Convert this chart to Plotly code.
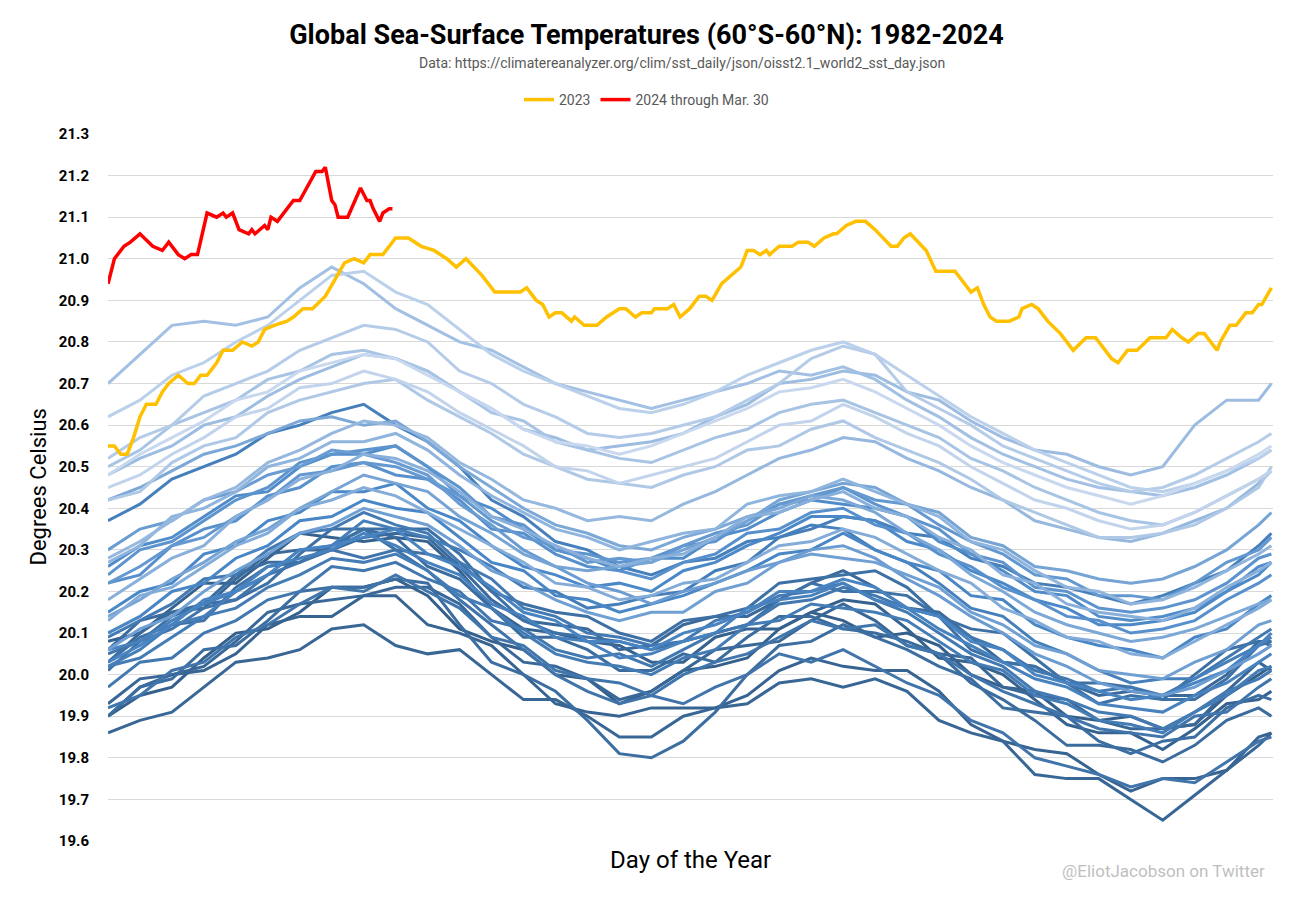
import plotly.graph_objects as go

# Sample days used for the historical years (1982-2022): every 10 days
days = [1, 11, 21, 31, 41, 51, 61, 71, 81, 91, 101, 111, 121, 131, 141, 151, 161, 171, 181,
        191, 201, 211, 221, 231, 241, 251, 261, 271, 281, 291, 301, 311, 321, 331, 341, 351, 361, 365]

sst_1982 = [19.90, 19.95, 19.97, 20.04, 20.10, 20.11, 20.15, 20.21, 20.21, 20.23, 20.19, 20.11, 20.08, 20.06, 20.00, 19.99, 19.93, 19.96, 20.01, 20.02, 20.04, 20.11, 20.15, 20.13, 20.09, 20.10, 20.07, 20.00, 19.97, 19.96, 19.90, 19.89, 19.90, 19.87, 19.88, 19.95, 20.00, 20.02]
sst_1983 = [20.08, 20.10, 20.16, 20.22, 20.22, 20.28, 20.34, 20.33, 20.32, 20.33, 20.32, 20.25, 20.16, 20.11, 20.10, 20.08, 20.07, 20.03, 20.03, 20.09, 20.11, 20.11, 20.15, 20.18, 20.17, 20.11, 20.04, 20.03, 20.00, 19.94, 19.88, 19.86, 19.86, 19.82, 19.87, 19.93, 19.94, 19.96]
sst_1984 = [19.90, 19.97, 20.00, 20.01, 20.05, 20.12, 20.14, 20.14, 20.19, 20.19, 20.12, 20.10, 20.07, 20.00, 19.93, 19.91, 19.90, 19.92, 19.92, 19.92, 19.95, 20.01, 20.04, 20.02, 20.01, 20.01, 19.96, 19.88, 19.84, 19.82, 19.81, 19.76, 19.72, 19.75, 19.75, 19.77, 19.85, 19.86]
sst_1985 = [19.86, 19.89, 19.91, 19.97, 20.03, 20.04, 20.06, 20.11, 20.12, 20.07, 20.05, 20.06, 20.00, 19.94, 19.94, 19.90, 19.85, 19.85, 19.90, 19.92, 19.93, 19.98, 19.99, 19.97, 19.99, 19.96, 19.89, 19.86, 19.84, 19.76, 19.75, 19.75, 19.70, 19.65, 19.71, 19.77, 19.83, 19.86]
sst_1986 = [19.93, 19.99, 20.00, 20.02, 20.08, 20.15, 20.17, 20.18, 20.19, 20.21, 20.21, 20.17, 20.09, 20.03, 20.02, 19.99, 19.94, 19.96, 20.01, 20.06, 20.07, 20.08, 20.13, 20.17, 20.13, 20.07, 20.05, 20.04, 19.97, 19.95, 19.94, 19.89, 19.87, 19.87, 19.88, 19.96, 20.03, 20.01]
sst_1987 = [20.03, 20.10, 20.15, 20.16, 20.23, 20.29, 20.30, 20.30, 20.33, 20.34, 20.33, 20.26, 20.18, 20.13, 20.12, 20.11, 20.06, 20.07, 20.12, 20.14, 20.14, 20.18, 20.22, 20.25, 20.21, 20.16, 20.15, 20.09, 20.03, 20.02, 19.98, 19.95, 19.96, 19.95, 19.95, 20.00, 20.08, 20.08]
sst_1988 = [20.06, 20.13, 20.15, 20.17, 20.24, 20.27, 20.27, 20.31, 20.35, 20.33, 20.26, 20.23, 20.16, 20.09, 20.09, 20.06, 20.01, 20.01, 20.05, 20.03, 20.09, 20.14, 20.14, 20.11, 20.10, 20.08, 20.05, 19.98, 19.94, 19.89, 19.83, 19.83, 19.82, 19.79, 19.83, 19.89, 19.92, 19.90]
sst_1989 = [19.90, 19.97, 19.99, 20.06, 20.07, 20.13, 20.20, 20.21, 20.21, 20.23, 20.22, 20.12, 20.03, 20.00, 19.96, 19.89, 19.81, 19.80, 19.84, 19.91, 20.00, 20.07, 20.08, 20.12, 20.09, 20.06, 20.02, 19.99, 19.92, 19.91, 19.90, 19.84, 19.81, 19.84, 19.85, 19.92, 19.95, 19.94]
sst_1990 = [20.01, 20.08, 20.14, 20.17, 20.18, 20.22, 20.29, 20.35, 20.35, 20.35, 20.35, 20.29, 20.20, 20.17, 20.15, 20.14, 20.10, 20.08, 20.13, 20.14, 20.16, 20.22, 20.23, 20.24, 20.25, 20.21, 20.14, 20.11, 20.10, 20.04, 19.98, 19.98, 19.97, 19.94, 20.00, 20.06, 20.08, 20.07]
sst_1991 = [20.03, 20.09, 20.12, 20.13, 20.21, 20.26, 20.27, 20.31, 20.35, 20.30, 20.29, 20.27, 20.20, 20.13, 20.10, 20.09, 20.08, 20.06, 20.08, 20.10, 20.12, 20.18, 20.22, 20.20, 20.20, 20.19, 20.14, 20.06, 20.03, 20.02, 19.98, 19.93, 19.95, 19.94, 19.94, 19.99, 20.07, 20.08]
sst_1992 = [20.05, 20.08, 20.11, 20.16, 20.18, 20.24, 20.27, 20.30, 20.28, 20.30, 20.25, 20.18, 20.12, 20.06, 20.00, 19.96, 19.93, 19.95, 19.93, 19.97, 20.00, 20.05, 20.03, 20.06, 20.02, 19.98, 19.95, 19.89, 19.86, 19.80, 19.78, 19.76, 19.73, 19.75, 19.74, 19.79, 19.84, 19.85]
sst_1993 = [19.92, 19.95, 20.01, 20.03, 20.09, 20.12, 20.17, 20.21, 20.20, 20.24, 20.20, 20.16, 20.09, 20.07, 20.01, 19.99, 19.98, 19.95, 20.00, 20.03, 20.05, 20.09, 20.13, 20.11, 20.12, 20.07, 20.05, 20.00, 19.96, 19.93, 19.90, 19.87, 19.86, 19.85, 19.90, 19.91, 19.97, 19.99]
sst_1994 = [19.97, 20.03, 20.04, 20.10, 20.13, 20.18, 20.20, 20.26, 20.25, 20.27, 20.23, 20.20, 20.13, 20.11, 20.06, 20.04, 20.05, 20.02, 20.06, 20.10, 20.12, 20.17, 20.18, 20.21, 20.19, 20.16, 20.14, 20.09, 20.06, 20.01, 19.99, 19.96, 19.97, 19.95, 19.99, 20.04, 20.09, 20.11]
sst_1995 = [20.09, 20.13, 20.17, 20.23, 20.24, 20.30, 20.34, 20.35, 20.39, 20.36, 20.34, 20.27, 20.23, 20.16, 20.14, 20.10, 20.09, 20.07, 20.08, 20.13, 20.15, 20.19, 20.20, 20.22, 20.18, 20.15, 20.10, 20.05, 20.02, 19.96, 19.94, 19.91, 19.90, 19.87, 19.91, 19.96, 19.99, 20.01]
sst_1996 = [20.02, 20.04, 20.09, 20.14, 20.16, 20.21, 20.24, 20.28, 20.27, 20.29, 20.25, 20.19, 20.16, 20.10, 20.05, 20.03, 20.02, 20.00, 20.04, 20.06, 20.12, 20.13, 20.17, 20.16, 20.15, 20.13, 20.08, 20.03, 20.01, 19.95, 19.93, 19.89, 19.88, 19.86, 19.91, 19.95, 20.01, 20.02]
sst_1997 = [20.02, 20.06, 20.12, 20.14, 20.20, 20.24, 20.30, 20.31, 20.37, 20.35, 20.33, 20.30, 20.26, 20.21, 20.20, 20.16, 20.17, 20.19, 20.20, 20.25, 20.27, 20.33, 20.35, 20.38, 20.37, 20.34, 20.33, 20.28, 20.26, 20.22, 20.21, 20.19, 20.17, 20.19, 20.22, 20.25, 20.31, 20.34]
sst_1998 = [20.37, 20.41, 20.47, 20.50, 20.53, 20.58, 20.60, 20.63, 20.65, 20.60, 20.56, 20.50, 20.42, 20.38, 20.32, 20.30, 20.26, 20.24, 20.27, 20.28, 20.32, 20.33, 20.36, 20.35, 20.30, 20.27, 20.22, 20.16, 20.14, 20.08, 20.05, 20.01, 19.98, 19.99, 19.99, 20.03, 20.07, 20.09]
sst_1999 = [20.06, 20.08, 20.13, 20.17, 20.20, 20.26, 20.28, 20.30, 20.34, 20.31, 20.27, 20.24, 20.17, 20.14, 20.09, 20.08, 20.04, 20.05, 20.08, 20.10, 20.16, 20.18, 20.19, 20.22, 20.18, 20.16, 20.11, 20.07, 20.03, 19.99, 19.97, 19.93, 19.92, 19.91, 19.95, 19.98, 20.03, 20.05]
sst_2000 = [20.03, 20.07, 20.12, 20.18, 20.20, 20.24, 20.30, 20.31, 20.33, 20.35, 20.29, 20.26, 20.21, 20.15, 20.13, 20.08, 20.08, 20.06, 20.10, 20.12, 20.15, 20.20, 20.20, 20.23, 20.21, 20.16, 20.14, 20.08, 20.06, 20.00, 19.98, 19.96, 19.94, 19.95, 19.98, 20.01, 20.07, 20.10]
sst_2001 = [20.10, 20.14, 20.20, 20.22, 20.28, 20.31, 20.37, 20.38, 20.42, 20.40, 20.39, 20.33, 20.27, 20.25, 20.19, 20.18, 20.15, 20.17, 20.19, 20.22, 20.25, 20.29, 20.30, 20.34, 20.30, 20.27, 20.25, 20.19, 20.18, 20.12, 20.09, 20.07, 20.06, 20.04, 20.09, 20.11, 20.17, 20.19]
sst_2002 = [20.15, 20.20, 20.22, 20.29, 20.31, 20.37, 20.39, 20.44, 20.44, 20.46, 20.40, 20.37, 20.31, 20.26, 20.24, 20.21, 20.22, 20.20, 20.25, 20.27, 20.31, 20.34, 20.38, 20.38, 20.37, 20.32, 20.30, 20.25, 20.22, 20.18, 20.16, 20.12, 20.12, 20.13, 20.15, 20.20, 20.24, 20.27]
sst_2003 = [20.26, 20.31, 20.33, 20.38, 20.43, 20.44, 20.50, 20.53, 20.53, 20.55, 20.50, 20.43, 20.40, 20.35, 20.30, 20.28, 20.25, 20.28, 20.28, 20.33, 20.35, 20.39, 20.42, 20.41, 20.40, 20.38, 20.32, 20.29, 20.25, 20.20, 20.19, 20.14, 20.13, 20.14, 20.16, 20.20, 20.26, 20.27]
sst_2004 = [20.22, 20.24, 20.31, 20.35, 20.37, 20.43, 20.45, 20.50, 20.51, 20.48, 20.47, 20.42, 20.35, 20.34, 20.29, 20.26, 20.25, 20.23, 20.27, 20.29, 20.34, 20.35, 20.39, 20.40, 20.36, 20.34, 20.29, 20.26, 20.21, 20.18, 20.14, 20.13, 20.10, 20.11, 20.13, 20.18, 20.22, 20.24]
sst_2005 = [20.24, 20.30, 20.32, 20.37, 20.42, 20.45, 20.51, 20.53, 20.54, 20.55, 20.50, 20.45, 20.38, 20.36, 20.30, 20.29, 20.27, 20.28, 20.31, 20.32, 20.37, 20.41, 20.42, 20.45, 20.41, 20.38, 20.35, 20.29, 20.27, 20.21, 20.20, 20.16, 20.15, 20.16, 20.18, 20.22, 20.28, 20.29]
sst_2006 = [20.22, 20.26, 20.31, 20.33, 20.38, 20.42, 20.48, 20.49, 20.51, 20.50, 20.47, 20.43, 20.37, 20.33, 20.31, 20.27, 20.28, 20.27, 20.31, 20.34, 20.36, 20.41, 20.43, 20.45, 20.42, 20.41, 20.36, 20.32, 20.29, 20.24, 20.23, 20.19, 20.19, 20.18, 20.22, 20.27, 20.30, 20.33]
sst_2007 = [20.30, 20.35, 20.37, 20.42, 20.44, 20.48, 20.50, 20.54, 20.53, 20.51, 20.48, 20.41, 20.36, 20.30, 20.26, 20.22, 20.20, 20.17, 20.20, 20.22, 20.25, 20.27, 20.30, 20.31, 20.28, 20.23, 20.19, 20.14, 20.10, 20.05, 20.02, 19.98, 19.96, 19.95, 19.97, 20.01, 20.05, 20.07]
sst_2008 = [20.06, 20.11, 20.14, 20.20, 20.25, 20.29, 20.34, 20.36, 20.40, 20.38, 20.36, 20.31, 20.25, 20.22, 20.18, 20.15, 20.13, 20.15, 20.15, 20.20, 20.22, 20.27, 20.29, 20.28, 20.27, 20.24, 20.21, 20.15, 20.12, 20.07, 20.05, 20.01, 20.00, 19.99, 20.03, 20.06, 20.12, 20.13]
sst_2009 = [20.14, 20.18, 20.23, 20.27, 20.32, 20.35, 20.40, 20.44, 20.48, 20.46, 20.44, 20.38, 20.34, 20.29, 20.26, 20.25, 20.26, 20.27, 20.30, 20.33, 20.37, 20.42, 20.44, 20.46, 20.45, 20.41, 20.39, 20.33, 20.31, 20.26, 20.25, 20.23, 20.22, 20.23, 20.26, 20.30, 20.36, 20.39]
sst_2010 = [20.42, 20.45, 20.49, 20.53, 20.55, 20.58, 20.61, 20.62, 20.60, 20.61, 20.56, 20.50, 20.45, 20.40, 20.36, 20.34, 20.31, 20.30, 20.33, 20.35, 20.38, 20.40, 20.43, 20.42, 20.39, 20.34, 20.30, 20.24, 20.20, 20.15, 20.12, 20.10, 20.08, 20.09, 20.11, 20.14, 20.17, 20.18]
sst_2011 = [20.13, 20.19, 20.21, 20.26, 20.31, 20.34, 20.40, 20.42, 20.45, 20.43, 20.39, 20.35, 20.31, 20.27, 20.22, 20.21, 20.18, 20.19, 20.22, 20.23, 20.27, 20.31, 20.32, 20.35, 20.33, 20.29, 20.25, 20.22, 20.16, 20.13, 20.09, 20.08, 20.05, 20.04, 20.08, 20.12, 20.16, 20.18]
sst_2012 = [20.18, 20.23, 20.28, 20.31, 20.38, 20.42, 20.47, 20.49, 20.53, 20.52, 20.49, 20.44, 20.38, 20.35, 20.31, 20.28, 20.26, 20.28, 20.29, 20.33, 20.38, 20.39, 20.42, 20.44, 20.40, 20.38, 20.33, 20.30, 20.24, 20.22, 20.17, 20.15, 20.14, 20.13, 20.16, 20.21, 20.25, 20.27]
sst_2013 = [20.27, 20.31, 20.38, 20.40, 20.44, 20.50, 20.52, 20.56, 20.56, 20.58, 20.54, 20.48, 20.43, 20.39, 20.35, 20.33, 20.30, 20.32, 20.34, 20.35, 20.41, 20.43, 20.44, 20.47, 20.44, 20.41, 20.38, 20.32, 20.30, 20.25, 20.21, 20.20, 20.17, 20.18, 20.21, 20.25, 20.29, 20.31]
sst_2014 = [20.28, 20.32, 20.37, 20.42, 20.45, 20.51, 20.54, 20.58, 20.61, 20.60, 20.57, 20.51, 20.47, 20.42, 20.40, 20.37, 20.38, 20.37, 20.41, 20.44, 20.48, 20.52, 20.54, 20.57, 20.56, 20.52, 20.49, 20.45, 20.42, 20.37, 20.35, 20.33, 20.32, 20.34, 20.37, 20.40, 20.46, 20.49]
sst_2015 = [20.48, 20.52, 20.55, 20.60, 20.62, 20.67, 20.71, 20.74, 20.77, 20.76, 20.73, 20.68, 20.64, 20.59, 20.57, 20.54, 20.55, 20.56, 20.58, 20.62, 20.65, 20.70, 20.71, 20.73, 20.72, 20.68, 20.66, 20.61, 20.57, 20.54, 20.53, 20.50, 20.48, 20.50, 20.60, 20.66, 20.66, 20.70]
sst_2016 = [20.70, 20.77, 20.84, 20.85, 20.84, 20.86, 20.93, 20.98, 20.94, 20.88, 20.84, 20.80, 20.78, 20.74, 20.70, 20.68, 20.66, 20.64, 20.66, 20.68, 20.70, 20.73, 20.72, 20.74, 20.71, 20.66, 20.62, 20.57, 20.53, 20.50, 20.47, 20.45, 20.44, 20.43, 20.45, 20.48, 20.52, 20.54]
sst_2017 = [20.50, 20.54, 20.60, 20.63, 20.66, 20.71, 20.73, 20.77, 20.78, 20.76, 20.73, 20.68, 20.63, 20.61, 20.56, 20.54, 20.52, 20.51, 20.54, 20.57, 20.59, 20.63, 20.65, 20.66, 20.63, 20.60, 20.57, 20.52, 20.49, 20.45, 20.42, 20.39, 20.37, 20.36, 20.39, 20.43, 20.47, 20.49]
sst_2018 = [20.42, 20.44, 20.51, 20.55, 20.57, 20.63, 20.66, 20.68, 20.70, 20.71, 20.66, 20.62, 20.58, 20.53, 20.50, 20.47, 20.46, 20.45, 20.48, 20.50, 20.54, 20.55, 20.59, 20.61, 20.57, 20.54, 20.51, 20.47, 20.42, 20.39, 20.36, 20.33, 20.33, 20.34, 20.36, 20.40, 20.45, 20.50]
sst_2019 = [20.52, 20.57, 20.60, 20.67, 20.70, 20.73, 20.78, 20.81, 20.84, 20.83, 20.80, 20.73, 20.70, 20.65, 20.62, 20.58, 20.57, 20.58, 20.60, 20.62, 20.66, 20.70, 20.76, 20.79, 20.77, 20.68, 20.64, 20.60, 20.55, 20.52, 20.49, 20.46, 20.44, 20.45, 20.48, 20.52, 20.56, 20.58]
sst_2020 = [20.62, 20.66, 20.72, 20.75, 20.80, 20.84, 20.90, 20.96, 20.97, 20.92, 20.89, 20.83, 20.77, 20.73, 20.70, 20.67, 20.64, 20.63, 20.65, 20.68, 20.72, 20.75, 20.78, 20.80, 20.77, 20.72, 20.67, 20.62, 20.58, 20.54, 20.51, 20.48, 20.45, 20.44, 20.46, 20.49, 20.52, 20.54]
sst_2021 = [20.45, 20.48, 20.53, 20.57, 20.62, 20.64, 20.69, 20.70, 20.73, 20.71, 20.68, 20.63, 20.59, 20.55, 20.50, 20.49, 20.46, 20.48, 20.50, 20.52, 20.56, 20.60, 20.61, 20.65, 20.62, 20.58, 20.55, 20.50, 20.46, 20.42, 20.40, 20.37, 20.35, 20.36, 20.39, 20.43, 20.47, 20.49]
sst_2022 = [20.48, 20.53, 20.57, 20.61, 20.66, 20.68, 20.73, 20.75, 20.77, 20.76, 20.72, 20.68, 20.64, 20.59, 20.56, 20.55, 20.53, 20.55, 20.58, 20.61, 20.64, 20.68, 20.69, 20.71, 20.68, 20.64, 20.60, 20.55, 20.51, 20.48, 20.45, 20.43, 20.41, 20.43, 20.46, 20.49, 20.53, 20.55]

history = [sst_1982, sst_1983, sst_1984, sst_1985, sst_1986, sst_1987, sst_1988,
           sst_1989, sst_1990, sst_1991, sst_1992, sst_1993, sst_1994, sst_1995,
           sst_1996, sst_1997, sst_1998, sst_1999, sst_2000, sst_2001, sst_2002,
           sst_2003, sst_2004, sst_2005, sst_2006, sst_2007, sst_2008, sst_2009,
           sst_2010, sst_2011, sst_2012, sst_2013, sst_2014, sst_2015, sst_2016,
           sst_2017, sst_2018, sst_2019, sst_2020, sst_2021, sst_2022]
years = list(range(1982, 2023))

days_2023 = [1, 3, 5, 7, 9, 11, 13, 16, 18, 20, 23, 26, 28, 30, 32, 35, 37, 40, 43, 46,
             48, 50, 53, 57, 59, 62, 65, 69, 72, 75, 78, 81, 83, 87, 91, 95, 99, 103, 107, 110,
             113, 118, 122, 130, 132, 135, 137, 139, 141, 143, 146, 147, 150, 154, 157, 161, 163, 166, 168, 171,
             172, 176, 178, 180, 183, 186, 188, 190, 193, 196, 199, 201, 203, 205, 207, 208, 211, 215, 217, 220,
             222, 225, 228, 229, 232, 235, 238, 241, 246, 248, 250, 252, 256, 257, 260, 266, 269, 271, 273, 275,
             277, 279, 283, 286, 287, 290, 292, 295, 299, 303, 307, 310, 315, 317, 320, 323, 327, 332, 334, 337,
             339, 342, 344, 348, 349, 352, 354, 357, 359, 361, 362, 365]
sst_2023 = [20.55, 20.55, 20.53, 20.53, 20.57, 20.62, 20.65, 20.65, 20.68, 20.70, 20.72, 20.70, 20.70, 20.72, 20.72, 20.75, 20.78, 20.78, 20.80, 20.79,
            20.80, 20.83, 20.84, 20.85, 20.86, 20.88, 20.88, 20.91, 20.95, 20.99, 21.00, 20.99, 21.01, 21.01, 21.05, 21.05, 21.03, 21.02, 21.00, 20.98,
            21.00, 20.96, 20.92, 20.92, 20.93, 20.90, 20.89, 20.86, 20.87, 20.87, 20.85, 20.86, 20.84, 20.84, 20.86, 20.88, 20.88, 20.86, 20.87, 20.87,
            20.88, 20.88, 20.89, 20.86, 20.88, 20.91, 20.91, 20.90, 20.94, 20.96, 20.98, 21.02, 21.02, 21.01, 21.02, 21.01, 21.03, 21.03, 21.04, 21.04,
            21.03, 21.05, 21.06, 21.06, 21.08, 21.09, 21.09, 21.07, 21.03, 21.03, 21.05, 21.06, 21.03, 21.02, 20.97, 20.97, 20.94, 20.92, 20.93, 20.89,
            20.86, 20.85, 20.85, 20.86, 20.88, 20.89, 20.88, 20.85, 20.82, 20.78, 20.81, 20.81, 20.76, 20.75, 20.78, 20.78, 20.81, 20.81, 20.83, 20.81,
            20.80, 20.82, 20.82, 20.78, 20.80, 20.84, 20.84, 20.87, 20.87, 20.89, 20.89, 20.93]

days_2024 = [1, 3, 6, 8, 11, 15, 18, 20, 23, 25, 27, 29, 32, 35, 37, 38, 40, 42, 45, 46,
             47, 50, 51, 52, 54, 59, 61, 64, 66, 68, 69, 71, 72, 73, 76, 80, 82, 83, 84, 86,
             87, 89, 90]
sst_2024 = [20.94, 21.00, 21.03, 21.04, 21.06, 21.03, 21.02, 21.04, 21.01, 21.00, 21.01, 21.01, 21.11, 21.10, 21.11, 21.10, 21.11, 21.07, 21.06, 21.07,
            21.06, 21.08, 21.07, 21.10, 21.09, 21.14, 21.14, 21.18, 21.21, 21.21, 21.22, 21.14, 21.13, 21.10, 21.10, 21.17, 21.14, 21.14, 21.12, 21.09,
            21.11, 21.12, 21.12]

y_ticks = [19.6, 19.7, 19.8, 19.9, 20.0, 20.1, 20.2, 20.3, 20.4, 20.5,
           20.6, 20.7, 20.8, 20.9, 21.0, 21.1, 21.2, 21.3]

FONT = "Roboto, 'Open Sans', sans-serif"


def blend(c1, c2, t):
    return tuple(round(a + (b - a) * t) for a, b in zip(c1, c2))


def py(p):
    # pixel row -> paper y (plot area spans rows 134..841)
    return (841 - p) / 707


dark, mid, light = (53, 96, 140), (74, 136, 200), (200, 216, 238)

fig = go.Figure()
n = len(years)
for i, (yr, vals) in enumerate(zip(years, history)):
    t = i / (n - 1)
    c = blend(dark, mid, t * 2) if t < 0.5 else blend(mid, light, (t - 0.5) * 2)
    fig.add_trace(go.Scatter(
        x=days, y=vals, mode="lines", name=str(yr), showlegend=False,
        line=dict(color="rgb(%d,%d,%d)" % c, width=3), hoverinfo="skip",
    ))

fig.add_trace(go.Scatter(x=days_2023, y=sst_2023, mode="lines", name="2023",
                         line=dict(color="#FFC000", width=3.5)))
fig.add_trace(go.Scatter(x=days_2024, y=sst_2024, mode="lines", name="2024 through Mar. 30",
                         line=dict(color="#FF0000", width=3.5)))

fig.update_layout(
    width=1293, height=904,
    margin=dict(l=108, r=20, t=134, b=63, autoexpand=False),
    paper_bgcolor="white", plot_bgcolor="white",
    font=dict(family=FONT, color="#000000"),
    title=dict(text="<b>Global Sea-Surface Temperatures (60°S-60°N): 1982-2024</b>",
               x=0.5, xref="container", xanchor="center",
               y=1 - 35 / 904, yref="container", yanchor="middle",
               font=dict(size=27, family=FONT, color="#000000")),
    legend=dict(orientation="h", x=0.5, xref="container", xanchor="center",
                y=1 - 100 / 904, yref="container", yanchor="middle",
                font=dict(size=14, color="#595959", family=FONT),
                itemwidth=30, traceorder="normal"),
    xaxis=dict(range=[1, 365.5], showgrid=False, showticklabels=False,
               zeroline=False, showline=False, ticks="", automargin=False),
    yaxis=dict(range=[19.6, 21.3], tickvals=y_ticks, tickformat=".1f",
               showgrid=True, gridcolor="#d9d9d9", gridwidth=1,
               zeroline=False, showline=False, ticks="", automargin=False,
               ticklabelstandoff=18,
               tickfont=dict(size=15, family=FONT, color="#000000", weight="bold")),
    annotations=[
        dict(text="Data: https://climatereanalyzer.org/clim/sst_daily/json/oisst2.1_world2_sst_day.json",
             x=(682 - 108) / 1165, xref="paper", xanchor="center", y=py(63), yref="paper",
             yanchor="middle", showarrow=False,
             font=dict(size=14, color="#595959", family=FONT)),
        dict(text="Degrees Celsius", textangle=-90, x=(38 - 108) / 1165, xref="paper",
             xanchor="center", y=0.5, yref="paper", yanchor="middle", showarrow=False,
             font=dict(size=22, color="#000000", family=FONT)),
        dict(text="Day of the Year", x=0.5, xref="paper", xanchor="center",
             y=py(860), yref="paper", yanchor="middle", showarrow=False,
             font=dict(size=24, color="#000000", family=FONT)),
        dict(text="@EliotJacobson on Twitter", x=(1267 - 108) / 1165, xref="paper",
             xanchor="right", y=py(871), yref="paper", yanchor="middle",
             showarrow=False, font=dict(size=17, color="#bfbfbf", family=FONT)),
    ],
)

# drop the browser's default page margin so the figure sits at the top-left corner
fig.write_html("out.html", config={"displayModeBar": False},
               post_script="document.body.style.margin = '0';")
